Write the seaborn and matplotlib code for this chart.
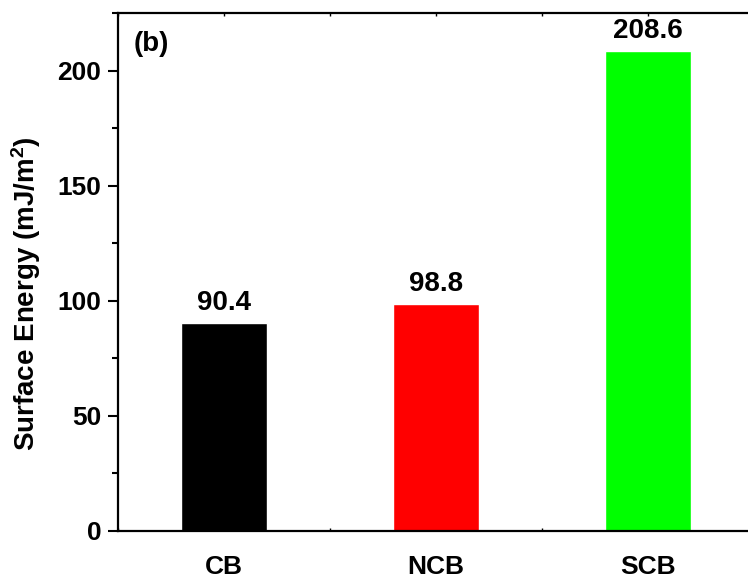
import matplotlib
matplotlib.use('Agg')
import matplotlib.pyplot as plt
import numpy as np
import pandas as pd
import seaborn as sns
from matplotlib.ticker import MultipleLocator

sns.set_style('ticks')
plt.rcParams['font.family'] = ['Liberation Sans', 'DejaVu Sans']
plt.rcParams['font.weight'] = 'bold'
plt.rcParams['mathtext.fontset'] = 'custom'
plt.rcParams['mathtext.rm'] = 'Liberation Sans:bold'
plt.rcParams['mathtext.bf'] = 'Liberation Sans:bold'
plt.rcParams['mathtext.default'] = 'rm'
for k in ['text.color', 'axes.labelcolor', 'xtick.color', 'ytick.color', 'axes.edgecolor']:
    plt.rcParams[k] = 'black'

# 表面能数据
samples = ['CB', 'NCB', 'SCB']
energy = [90.4, 98.8, 208.6]
colors = ['#000000', '#ff0000', '#00ff00']

df = pd.DataFrame({'sample': samples, 'energy': energy})

fig = plt.figure(figsize=(7.48, 5.80), dpi=100)
ax = fig.add_axes([118/748, 49/580, 636/748, 518/580])
sns.barplot(data=df, x='sample', y='energy', hue='sample', palette=colors,
            width=0.41, saturation=1, legend=False, ax=ax)

for c in ax.containers:
    ax.bar_label(c, fmt='%.1f', padding=5, fontsize=20, fontweight='bold')

ax.set_xlim(-0.5, 2.5)
ax.set_ylim(0, 225)
ax.yaxis.set_major_locator(MultipleLocator(50))
ax.yaxis.set_minor_locator(MultipleLocator(25))
ax.xaxis.set_minor_locator(MultipleLocator(0.5))

for s in ['left', 'bottom', 'top', 'right']:
    ax.spines[s].set_linewidth(1.6)

ax.tick_params(axis='y', which='major', direction='out', length=7, width=1.5,
               labelsize=19, pad=5)
ax.tick_params(axis='y', which='minor', direction='out', length=4, width=1.5)
ax.tick_params(axis='x', which='both', direction='in', length=2, width=1,
               top=True, labelsize=19, pad=17)

ax.set_xlabel('')
ax.set_ylabel(r'Surface Energy (mJ/m$^{2}$)', fontsize=20, fontweight='bold')
ax.yaxis.set_label_coords(-0.118, 0.4575)
ax.text(0.024, 0.965, '(b)', transform=ax.transAxes, fontsize=20,
        fontweight='bold', va='top', ha='left')

fig.savefig('out.png', dpi=100)
